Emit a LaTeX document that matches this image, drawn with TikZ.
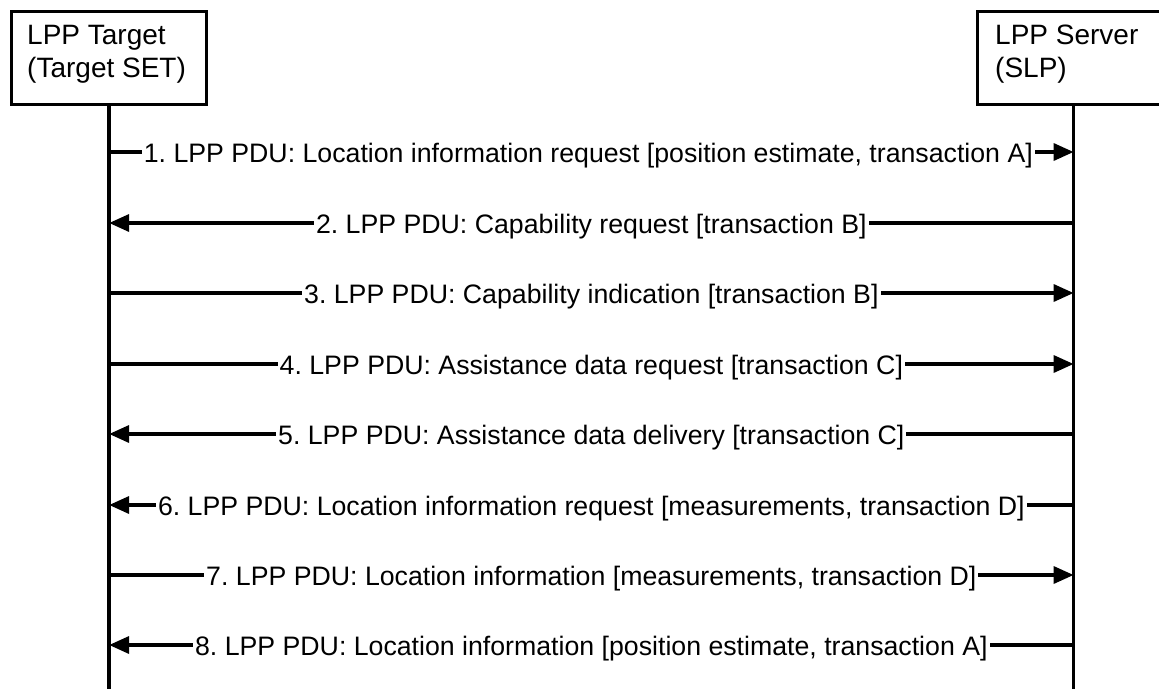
\documentclass[tikz,border=0pt]{standalone}
\usepackage{fontspec}
\setmainfont{Liberation Sans}
\usetikzlibrary{arrows.meta}
\begin{document}
\frenchspacing
\begin{tikzpicture}[x=1pt,y=-1pt,
  every node/.style={font=\fontsize{26.7}{33}\selectfont},
  entity/.style={draw, line width=3.2pt, anchor=north west, minimum height=93pt, inner sep=0pt},
  entitytext/.style={anchor=north west, align=left, inner sep=0pt,
    font=\fontsize{28}{33}\selectfont},
  lifeline/.style={line width=3.4pt},
  msg/.style={line width=3.4pt, -{Triangle[length=20pt,width=17pt]}},
  lbl/.style={fill=white, inner xsep=2pt, inner ysep=1pt, midway, yshift=-4pt}]
\useasboundingbox (0,0) rectangle (1159,688);
\clip (0,0) rectangle (1159,688);
\node[entity, minimum width=195pt,
  label={[entitytext, xshift=17pt, yshift=-15pt]north west:LPP Target\\(Target SET)}] (tgt) at (10,10) {};
\node[entity, minimum width=192pt,
  label={[entitytext, xshift=19pt, yshift=-15pt]north west:LPP Server\\(SLP)}] (srv) at (976,10) {};
\coordinate (tgtEnd) at ([yshift=-600pt]tgt.south);
\coordinate (srvEnd) at ([yshift=-600pt]srv.south);
\draw[lifeline] (tgt.south) -- (tgtEnd);
\draw[lifeline] (srv.south) -- (srvEnd);
\foreach \i/\y in {1/152,2/223,3/293,4/364,5/434,6/505,7/575,8/645}{
  \coordinate (L\i) at (tgt.south |- 0,\y);
  \coordinate (R\i) at (srv.south |- 0,\y);
}
\draw[msg] (L1) -- node[lbl, xshift=-3pt]{1. LPP PDU: Location information request [position estimate, transaction A]} (R1);
\draw[msg] (R2) -- node[lbl]{2. LPP PDU: Capability request [transaction B]} (L2);
\draw[msg] (L3) -- node[lbl]{3. LPP PDU: Capability indication [transaction B]} (R3);
\draw[msg] (L4) -- node[lbl]{4. LPP PDU: Assistance data request [transaction C]} (R4);
\draw[msg] (R5) -- node[lbl]{5. LPP PDU: Assistance data delivery [transaction C]} (L5);
\draw[msg] (R6) -- node[lbl]{6. LPP PDU: Location information request [measurements, transaction D]} (L6);
\draw[msg] (L7) -- node[lbl]{7. LPP PDU: Location information [measurements, transaction D]} (R7);
\draw[msg] (R8) -- node[lbl]{8. LPP PDU: Location information [position estimate, transaction A]} (L8);
\end{tikzpicture}
\end{document}
